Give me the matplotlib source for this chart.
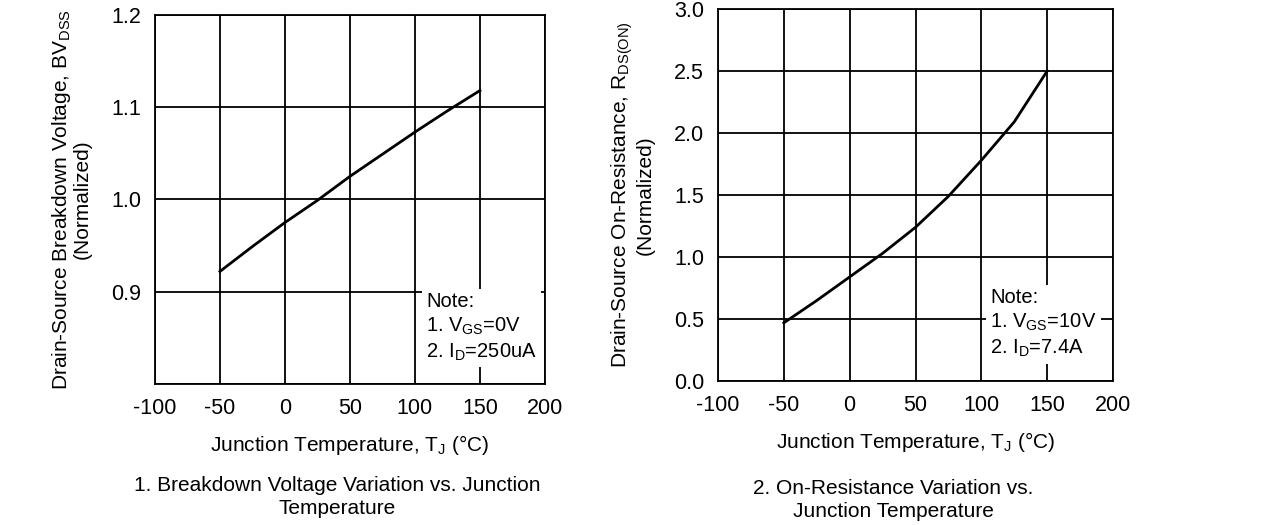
import numpy as np
import matplotlib
matplotlib.use("Agg")
import matplotlib.pyplot as plt

plt.rcParams['font.family'] = ['Liberation Sans', 'DejaVu Sans']
plt.rcParams['mathtext.fontset'] = 'custom'
plt.rcParams['mathtext.rm'] = 'Liberation Sans'
plt.rcParams['mathtext.it'] = 'Liberation Sans'
plt.rcParams['axes.unicode_minus'] = False

# junction temperature (degC)
temp = [-50, -25, 0, 25, 50, 75, 100, 125, 150]
# figure 1: normalized breakdown voltage
bv_norm = [0.922, 0.949, 0.975, 0.999, 1.025, 1.049, 1.073, 1.096, 1.118]
# figure 2: normalized on-resistance
rds_norm = [0.47, 0.65, 0.84, 1.03, 1.24, 1.49, 1.78, 2.09, 2.50]

x_ticks = [-100, -50, 0, 50, 100, 150, 200]
bv_ticks = [0.8, 0.9, 1.0, 1.1, 1.2]
bv_labels = ["", "0.9", "1.0", "1.1", "1.2"]
rds_ticks = [0.0, 0.5, 1.0, 1.5, 2.0, 2.5, 3.0]

xlabel = "Junction Temperature, T$_\\mathregular{J}$ (°C)"

fig = plt.figure(figsize=(12.69, 5.25), dpi=100)
ax1 = fig.add_axes([0.1221, 0.2686, 0.3073, 0.703])
ax2 = fig.add_axes([0.5658, 0.274, 0.3113, 0.709])


def style(ax, yticks, ylim, ylabels=None):
    ax.set_xlim(-100, 200)
    ax.set_ylim(*ylim)
    ax.set_xticks(x_ticks)
    ax.set_yticks(yticks)
    if ylabels is not None:
        ax.set_yticklabels(ylabels)
    else:
        ax.set_yticklabels([f"{v:.1f}" for v in yticks])
    ax.grid(True, color='black', lw=1.3)
    ax.tick_params(length=0, labelsize=15.5, pad=10)
    for s in ax.spines.values():
        s.set_linewidth(1.3)
    ax.set_xlabel(xlabel, fontsize=15, labelpad=10)


style(ax1, bv_ticks, (0.8, 1.2), bv_labels)
ax1.plot(temp, bv_norm, color='black', lw=2)
ax1.set_ylabel("Drain-Source Breakdown Voltage, BV$_\\mathregular{DSS}$\n(Normalized)",
               fontsize=15, linespacing=1.0, labelpad=14)
ax1.text(0.695, 0.25, "Note:\n1. V$_\\mathregular{GS}$=0V\n2. I$_\\mathregular{D}$=250uA",
         transform=ax1.transAxes, fontsize=14.5, va='top', ha='left', linespacing=1.3,
         bbox=dict(facecolor='white', edgecolor='none', pad=3), zorder=5)

style(ax2, rds_ticks, (0.0, 3.0))
ax2.plot(temp, rds_norm, color='black', lw=2)
ax2.set_ylabel("Drain-Source On-Resistance, R$_\\mathregular{DS(ON)}$\n(Normalized)",
               fontsize=15, linespacing=1.0, labelpad=14)
ax2.text(0.689, 0.25, "Note:\n1. V$_\\mathregular{GS}$=10V\n2. I$_\\mathregular{D}$=7.4A",
         transform=ax2.transAxes, fontsize=14.5, va='top', ha='left', linespacing=1.3,
         bbox=dict(facecolor='white', edgecolor='none', pad=3), zorder=5)

fig.text(337 / 1269, 1 - 497 / 525, "1. Breakdown Voltage Variation vs. Junction\nTemperature",
         ha='center', va='center', fontsize=15, linespacing=1.3)
fig.text(893 / 1269, 1 - 500 / 525, "2. On-Resistance Variation vs.\nJunction Temperature",
         ha='center', va='center', fontsize=15, linespacing=1.3)

fig.savefig("out.png", dpi=100, facecolor='white')
